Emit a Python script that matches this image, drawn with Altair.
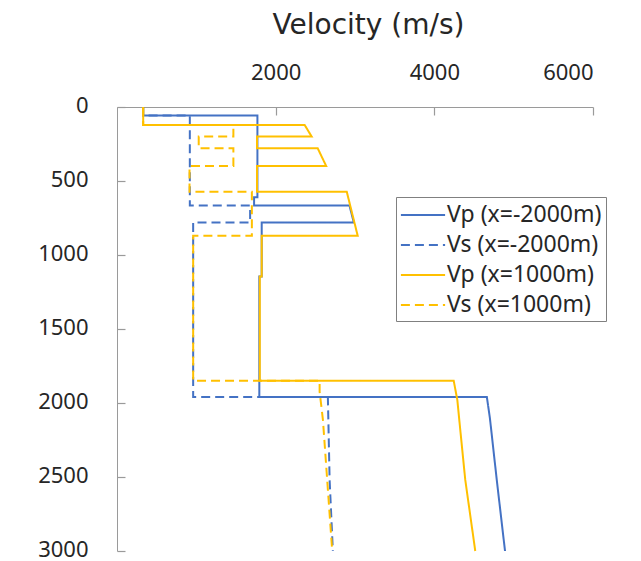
import altair as alt
import pandas as pd

series_names = ["Vp (x=-2000m)", "Vs (x=-2000m)", "Vp (x=1000m)", "Vs (x=1000m)"]
series_colors = ["#4472C4", "#4472C4", "#FFC000", "#FFC000"]
series_dashes = [[1, 0], [9, 5], [1, 0], [9, 5]]

x_ticks = [2000, 4000, 6000]
y_ticks = [0, 500, 1000, 1500, 2000, 2500, 3000]

# Vp at x=-2000m
vp_a_depth = [0, 58, 58, 610, 610, 665, 665, 780, 780, 1146, 1146, 1960, 1960, 2100, 2520, 3000]
vp_a_vel = [330, 330, 1770, 1770, 1728, 1728, 2930, 2985, 1824, 1824, 1794, 1794, 4662, 4700, 4787, 4891]

# Vs at x=-2000m
vs_a_depth = [0, 58, 58, 665, 665, 780, 780, 1960, 1960, 2520, 3000]
vs_a_vel = [330, 330, 918, 918, 1678, 1678, 960, 960, 2658, 2680, 2721]

# Vp at x=1000m
vp_b_depth = [0, 122, 122, 200, 200, 279, 279, 399, 399, 572, 572, 870, 870, 1146, 1146, 1849, 1849, 1980, 2182, 2520, 3000]
vp_b_vel = [330, 330, 2366, 2454, 1765, 1765, 2530, 2637, 1765, 1765, 2896, 3034, 1824, 1824, 1800, 1800, 4244, 4290, 4327, 4390, 4516]

# Vs at x=1000m
vs_b_depth = [0, 122, 122, 200, 200, 279, 279, 399, 399, 572, 572, 870, 870, 1849, 1849, 1923, 2115, 3000]
vs_b_vel = [330, 330, 1467, 1467, 1030, 1030, 1467, 1467, 914, 914, 1700, 1700, 960, 960, 2554, 2554, 2596, 2713]

rows = []
for name, depths, vels in zip(series_names,
                              [vp_a_depth, vs_a_depth, vp_b_depth, vs_b_depth],
                              [vp_a_vel, vs_a_vel, vp_b_vel, vs_b_vel]):
    for i, (d, v) in enumerate(zip(depths, vels)):
        rows.append({"series": name, "depth": d, "vel": v, "idx": i})
df = pd.DataFrame(rows)

axis_gray = "#9a9a9a"
text_col = "#262626"

legend = alt.Legend(
    title=None, orient="none", legendX=279, legendY=90,
    symbolType="M-1.7,0H1.7", symbolSize=676, symbolStrokeWidth=2,
    symbolOffset=9, labelOffset=10, labelLimit=400,
    labelFont="Noto Sans", labelFontSize=23, labelColor=text_col,
    rowPadding=4, padding=4, strokeColor="#808080", fillColor="white",
)

color_scale = alt.Scale(domain=series_names, range=series_colors)
dash_scale = alt.Scale(domain=series_names, range=series_dashes)

x_enc = alt.X(
    "vel:Q",
    scale=alt.Scale(domain=[0, 6000], nice=False),
    axis=alt.Axis(
        orient="top", values=x_ticks, title="Velocity (m/s)", format="d",
        ticks=False, tickSize=0, labelPadding=23,
        labelFont="Noto Sans", labelFontSize=22, labelColor=text_col,
        titleFont="DejaVu Sans", titleFontSize=28, titleFontWeight="normal",
        titleColor=text_col, titleX=251, titleY=-74, titleAlign="center",
        titleBaseline="alphabetic",
        domainColor=axis_gray, grid=True, gridColor=axis_gray,
        gridDash=[8, 2000], gridWidth=1.2,
    ),
)
y_enc = alt.Y(
    "depth:Q",
    scale=alt.Scale(domain=[0, 3000], reverse=True, nice=False),
    axis=alt.Axis(
        values=y_ticks, title=None, format="d",
        ticks=False, tickSize=0, labelPadding=29, labelOffset=-2,
        labelFont="Noto Sans", labelFontSize=22, labelColor=text_col,
        domainColor=axis_gray, grid=True, gridColor=axis_gray,
        gridDash=[8, 2000], gridWidth=1.2,
    ),
)

layers = []
for name in series_names:
    layers.append(
        alt.Chart(df)
        .transform_filter(alt.datum.series == name)
        .mark_line(strokeWidth=2)
        .encode(
            x=x_enc,
            y=y_enc,
            order="idx:Q",
            color=alt.Color("series:N", scale=color_scale, legend=legend, sort=series_names),
            strokeDash=alt.StrokeDash("series:N", scale=dash_scale, legend=legend, sort=series_names),
        )
    )

chart = (
    alt.layer(*layers)
    .properties(
        width=476, height=444,
        autosize=alt.AutoSizeParams(type="none"),
        padding={"left": 117, "top": 107, "right": 48, "bottom": 10},
        background="white",
    )
    .configure_view(stroke=None)
)

chart.save("out.html", embed_options={"renderer": "svg", "actions": False})
